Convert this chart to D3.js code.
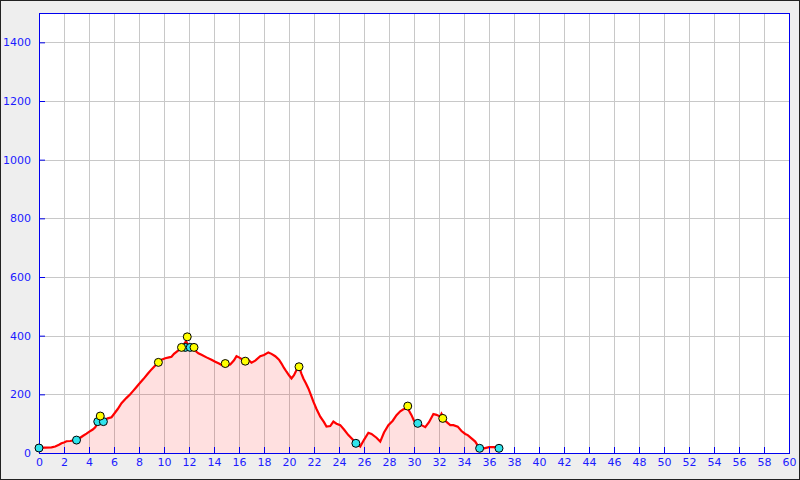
<!DOCTYPE html>
<html><head><meta charset="utf-8">
<script src="https://cdn.jsdelivr.net/npm/d3@7"></script>
<style>html,body{margin:0;padding:0;background:#eeeeee;}svg{display:block;}</style>
</head><body>
<svg id="chart" width="800" height="480"></svg>
<script>
// Profile: distance (km) and elevation (m)
const distances = [0,0.5,1.0,1.3,1.6,1.8,2.0,2.2,2.5,2.8,3.0,3.3,3.5,3.8,4.0,4.3,4.5,4.6,4.7,4.9,5.15,5.5,5.8,6.0,6.3,6.6,7.0,7.3,7.5,7.8,8.0,8.35,8.7,9.0,9.3,9.55,9.8,10.1,10.4,10.6,10.8,11.0,11.3,11.5,11.75,11.9,12.1,12.4,12.75,13.0,13.4,13.8,14.1,14.4,14.6,14.9,15.3,15.6,15.8,16.0,16.3,16.6,16.8,17.0,17.3,17.7,18.0,18.35,18.6,18.9,19.2,19.4,19.6,19.8,20.0,20.2,20.4,20.6,20.8,21.0,21.15,21.35,21.55,21.75,21.95,22.2,22.5,22.8,23.0,23.3,23.55,23.8,24.1,24.4,24.75,25.0,25.35,25.7,26.0,26.35,26.6,27.0,27.3,27.6,27.95,28.3,28.6,28.9,29.15,29.5,29.8,30.0,30.3,30.6,30.9,31.2,31.55,31.8,32.1,32.2,32.5,32.9,33.15,33.5,33.8,34.1,34.3,34.6,34.9,35.1,35.25,35.6,36.0,36.5,36.8];
const elevations = [18,18,19,22,28,33,36,40,41,43,44,52,58,66,72,80,88,95,108,112,110,118,122,133,150,170,188,200,210,225,235,252,270,285,298,310,318,323,326,328,338,345,355,365,380,372,362,352,340,335,326,318,311,305,300,298,302,316,330,326,318,312,315,308,315,330,334,343,338,330,318,305,290,277,265,254,265,283,294,270,254,238,220,198,175,150,124,105,90,92,107,100,95,80,61,50,35,22,45,69,65,52,39,70,95,110,129,142,149,152,129,110,101,95,88,105,133,130,124,134,110,95,95,90,75,65,61,50,39,25,16,16,20,20,18];

// Waypoint markers
const yellowDist = [4.9,9.55,11.4,11.86,12.4,14.9,16.5,20.8,29.5,32.3];
const yellowElev = [126,309,360,396,360,305,313,294,160,118];
const cyanDist = [0,3,4.7,5.15,11.7,12.1,25.35,30.3,35.25,36.8];
const cyanElev = [17,44,107,107,360,360,33,101,16,16];

const xTicks = d3.range(0, 61, 2);
const yTicks = d3.range(0, 1401, 200);

const svg = d3.select("#chart");
const L = 39, R = 789, T = 13, B = 453;
const x = d3.scaleLinear().domain([0, 60]).range([L, R]);
const y = d3.scaleLinear().domain([0, 1500]).range([B, T]);

svg.append("rect").attr("x",0.5).attr("y",0.5).attr("width",799).attr("height",479)
  .attr("fill","#eeeeee").attr("stroke","#222");
svg.append("rect").attr("x",L+0.5).attr("y",T+0.5).attr("width",R-L).attr("height",B-T)
  .attr("fill","#ffffff");

// grid
const g = svg.append("g").attr("stroke","#c8c8c8").attr("stroke-width",1);
xTicks.filter(d=>d>0&&d<60).forEach(d=>{
  const px = Math.round(x(d))+0.5;
  g.append("line").attr("x1",px).attr("x2",px).attr("y1",T).attr("y2",B);
});
yTicks.filter(d=>d>0).forEach(d=>{
  const py = Math.round(y(d))+0.5;
  g.append("line").attr("x1",L).attr("x2",R).attr("y1",py).attr("y2",py);
});

const pts = distances.map((d,i)=>[d, elevations[i]]);
svg.append("path").datum(pts)
  .attr("fill","rgba(255,0,0,0.12)")
  .attr("d", d3.area().x(d=>x(d[0])).y0(y(0)).y1(d=>y(d[1])));
svg.append("path").datum(pts)
  .attr("fill","none").attr("stroke","#ff0000").attr("stroke-width",2.2)
  .attr("stroke-linejoin","miter")
  .attr("d", d3.line().x(d=>x(d[0])).y(d=>y(d[1])));

// border
svg.append("rect").attr("x",L+0.5).attr("y",T+0.5).attr("width",R-L).attr("height",B-T)
  .attr("fill","none").attr("stroke","#0000ee").attr("stroke-width",1);

// axes
const xa = svg.append("g").attr("transform",`translate(0,${B})`)
  .call(d3.axisBottom(x).tickValues(xTicks).tickSizeInner(-6).tickSizeOuter(0).tickPadding(5).tickFormat(d3.format("d")));
const ya = svg.append("g").attr("transform",`translate(${L},0)`)
  .call(d3.axisLeft(y).tickValues(yTicks).tickSizeInner(-6).tickSizeOuter(0).tickPadding(8).tickFormat(d3.format("d")));
[xa,ya].forEach(a=>{
  a.select(".domain").remove();
  a.selectAll("line").attr("stroke","#0000ee");
  a.selectAll("text").attr("fill","#1a1aff").style("font-family","DejaVu Sans").style("font-size","11px");
});

// markers
svg.append("g").selectAll("circle").data(cyanDist).join("circle")
  .attr("cx",(d)=>x(d)).attr("cy",(d,i)=>y(cyanElev[i])).attr("r",4)
  .attr("fill","#30e4ec").attr("stroke","#000").attr("stroke-width",1);
svg.append("g").selectAll("circle").data(yellowDist).join("circle")
  .attr("cx",(d)=>x(d)).attr("cy",(d,i)=>y(yellowElev[i])).attr("r",4)
  .attr("fill","#ffff00").attr("stroke","#000").attr("stroke-width",1);
</script>
</body></html>
